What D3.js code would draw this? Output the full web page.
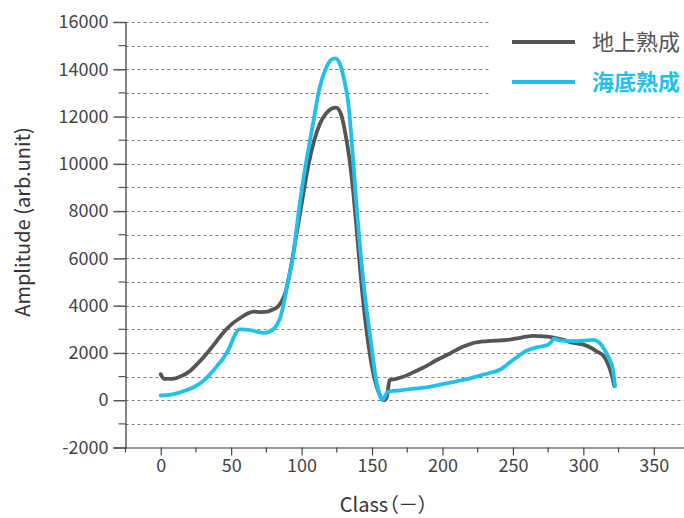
<!DOCTYPE html>
<html>
<head>
<meta charset="utf-8">
<script src="https://cdn.jsdelivr.net/npm/d3@7"></script>
<style>
  body { margin: 0; background: #fff; }
  text { font-family: "Noto Sans CJK JP", "Noto Sans", sans-serif; font-feature-settings: "palt"; }
</style>
</head>
<body>
<div id="viz"></div>
<script>
// series: class -> amplitude
const groundClass = [0,2.5,8,14,21,27,33,39,45,51,57,62,66,71,76,80,83,86,88.5,92,96,100,105,109,113,117,121,124.5,128,131,134,137,140,143,146,149,152,155,158.5,160.5,162.5,167,172.5,180,187,196,206,214,222,232,246,256,265,272,279,286,293,300,306,310,314,317,320,322];
const groundValue = [1100,900,900,1000,1250,1600,2000,2450,2900,3250,3500,3680,3750,3730,3750,3850,3950,4200,4550,5500,6900,8300,10000,11000,11700,12100,12330,12380,12100,11300,10200,8600,6600,4600,3000,1750,850,300,0,150,850,900,1000,1200,1400,1700,2000,2250,2420,2500,2550,2650,2720,2700,2650,2550,2420,2350,2200,2050,1900,1600,1100,600];

const seaClass = [0,6,12,18,24,30,35.5,40,45,49,52,55.6,58,64,68,73,77,80.4,83,85,87,88.7,91,93.5,98,103,106,109,112,117,121,124,127,130,133.3,136.3,138.5,141,145.4,148,150,152.5,155,157.2,159,161,170,180,187,200,210,218,230,241,250,260,268,275,277,279,284,294,300,307,311,315,318,321,322.5];
const seaValue = [200,230,300,420,570,800,1130,1450,1830,2250,2680,3000,3000,2960,2900,2850,2900,3030,3250,3520,4000,4500,5200,5900,8000,10000,11000,12000,13000,14000,14400,14460,14250,13600,12500,10400,8600,6800,4200,3000,2100,1000,300,0,150,350,420,490,530,680,800,900,1100,1300,1700,2100,2250,2350,2450,2600,2520,2500,2520,2550,2450,2150,1800,1300,600];

const seriesNames = ["地上熟成", "海底熟成"];
const seriesColors = ["#555555", "#1fc0ee"];

const xMajor = [0, 50, 100, 150, 200, 250, 300, 350];
const xMinor = [-25, 25, 75, 125, 175, 225, 275, 325, 375];
const yMajor = [-2000, 0, 2000, 4000, 6000, 8000, 10000, 12000, 14000, 16000];
const yMinor = [-1000, 1000, 3000, 5000, 7000, 9000, 11000, 13000, 15000];

const width = 684, height = 518;

const svg = d3.select("#viz").append("svg")
  .attr("width", width)
  .attr("height", height);

const x = d3.scaleLinear().domain([-25, 375]).range([125.5, 689]);
const y = d3.scaleLinear().domain([-2000, 16000]).range([447.5, 22]);

// dashed grid
svg.append("g")
  .selectAll("line")
  .data(yMajor.concat(yMinor).filter(v => v > -2000))
  .join("line")
  .attr("x1", x(-25)).attr("x2", width)
  .attr("y1", d => Math.round(y(d)) + 0.5).attr("y2", d => Math.round(y(d)) + 0.5)
  .attr("stroke", "#808080")
  .attr("stroke-width", 1)
  .attr("stroke-dasharray", "3,3");

// y axis
const yAxis = svg.append("g").attr("transform", `translate(${x(-25)},0)`);
yAxis.call(d3.axisLeft(y).tickValues(yMajor).tickSize(12).tickPadding(5).tickFormat(d => String(d)))
yAxis.select(".domain").attr("stroke", "#333").attr("stroke-width", 1.2);
yAxis.selectAll(".tick line").attr("stroke", "#555").attr("stroke-width", 1.5);
yAxis.selectAll(".tick text").attr("font-size", "18px").attr("fill", "#444");
svg.append("g").selectAll("line")
  .data(yMinor)
  .join("line")
  .attr("x1", x(-25) - 7).attr("x2", x(-25))
  .attr("y1", d => y(d)).attr("y2", d => y(d))
  .attr("stroke", "#555").attr("stroke-width", 1.2);

// x axis
const xAxis = svg.append("g").attr("transform", `translate(0,${y(-2000)})`);
xAxis.call(d3.axisBottom(x).tickValues(xMajor).tickSize(8).tickPadding(4).tickSizeOuter(0));
xAxis.select(".domain").attr("stroke", "#333").attr("stroke-width", 1.2);
xAxis.selectAll(".tick line").attr("stroke", "#444").attr("stroke-width", 1.2);
xAxis.selectAll(".tick text").attr("font-size", "18px").attr("fill", "#444");
svg.append("g").selectAll("line")
  .data(xMinor)
  .join("line")
  .attr("x1", d => x(d)).attr("x2", d => x(d))
  .attr("y1", y(-2000)).attr("y2", y(-2000) + 5)
  .attr("stroke", "#444").attr("stroke-width", 1.2);

// lines
const line = d3.line()
  .x(d => x(d[0]))
  .y(d => y(d[1]))
  .curve(d3.curveMonotoneX);

const series = [
  d3.zip(groundClass, groundValue),
  d3.zip(seaClass, seaValue)
];

svg.append("g")
  .selectAll("path")
  .data(series)
  .join("path")
  .attr("d", line)
  .attr("fill", "none")
  .attr("stroke", (d, i) => seriesColors[i])
  .attr("stroke-width", 3.8)
  .attr("stroke-linejoin", "round")
  .attr("stroke-linecap", "round");

// legend
const legend = svg.append("g");
legend.append("rect")
  .attr("x", 491).attr("y", 12)
  .attr("width", width - 491).attr("height", 92)
  .attr("fill", "#fff");
seriesNames.forEach((name, i) => {
  const ly = 42 + i * 40;
  legend.append("line")
    .attr("x1", 512).attr("x2", 575)
    .attr("y1", ly).attr("y2", ly)
    .attr("stroke", seriesColors[i])
    .attr("stroke-width", 4);
  legend.append("text")
    .attr("x", 592).attr("y", ly + 8)
    .style("font-size", "22px")
    .style("font-weight", i === 1 ? "bold" : "normal")
    .style("fill", seriesColors[i])
    .text(name);
});

// axis titles
svg.append("text")
  .attr("transform", "translate(30,222) rotate(-90)")
  .attr("text-anchor", "middle")
  .style("font-size", "20px")
  .style("fill", "#333")
  .text("Amplitude (arb.unit)");

svg.append("text")
  .attr("x", 384).attr("y", 512)
  .attr("text-anchor", "middle")
  .style("font-size", "20px")
  .style("fill", "#333")
  .text("Class（－）");
</script>
</body>
</html>
